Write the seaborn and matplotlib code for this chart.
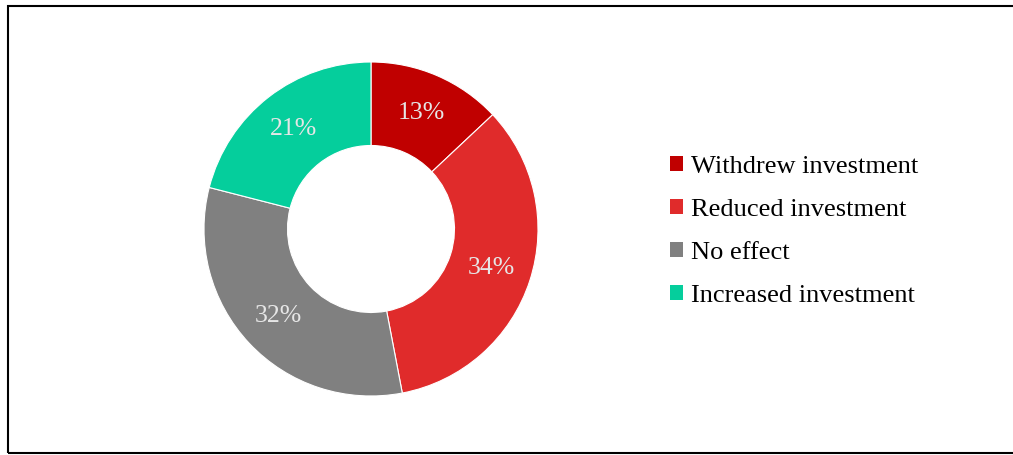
import matplotlib
matplotlib.use("Agg")
import matplotlib.pyplot as plt
import seaborn as sns
from matplotlib.patches import Rectangle, Patch

# === data ===
categories = ["Withdrew investment", "Reduced investment", "No effect", "Increased investment"]
shares = [13, 34, 32, 21]
colors = ["#C00000", "#E02B2B", "#808080", "#05CE9C"]

sns.set_style("white")
plt.rcParams['font.family'] = ['Liberation Serif', 'DejaVu Serif']

fig = plt.figure(figsize=(10.13, 4.55), dpi=100)
W, H = 1013, 455

# donut centred at (371, 229) px, radius 167 px
cx, cy, r = 371, 229, 167
ax = fig.add_axes([(cx - r) / W, (H - cy - r) / H, 2 * r / W, 2 * r / H])
wedges, texts, autotexts = ax.pie(
    shares, colors=colors, startangle=90, counterclock=False,
    autopct=lambda p: f"{p:.0f}%", pctdistance=0.76,
    wedgeprops=dict(width=0.5, edgecolor="white", linewidth=0.8),
    textprops=dict(color="#E6E6E6", fontsize=18.5),
)
ax.set_xlim(-1, 1)
ax.set_ylim(-1, 1)
ax.set_aspect("equal")

# legend
handles = [Patch(facecolor=c, edgecolor="none") for c in colors]
leg = fig.legend(handles, categories, loc="center left", bbox_to_anchor=(646 / W, 1 - 231.5 / H),
                 frameon=False, fontsize=19, handlelength=0.5, handleheight=0.5,
                 handletextpad=0.3, labelspacing=0.8)
for t in leg.get_texts():
    t.set_color("black")

# outer frame
fig.patches.append(Rectangle((8 / W, 2.5 / H), 1.1, 446.5 / H,
                             transform=fig.transFigure, fill=False,
                             edgecolor="black", linewidth=1.5))

fig.savefig("out.png", dpi=100)
